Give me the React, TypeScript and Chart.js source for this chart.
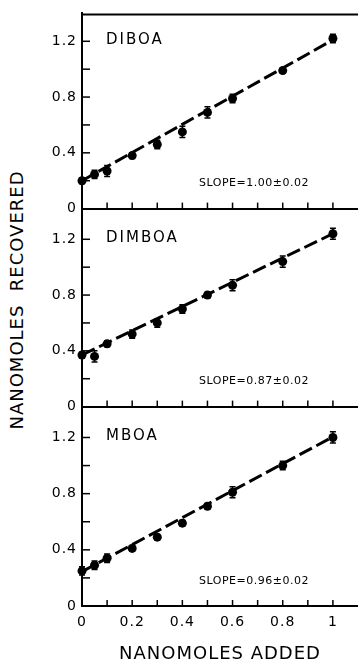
import React, { useEffect, useRef } from 'react';
import { Chart, registerables } from 'chart.js';

Chart.register(...registerables);

// ---- data ----
const xValues = [0, 0.05, 0.1, 0.2, 0.3, 0.4, 0.5, 0.6, 0.8, 1.0];

const diboaValues = [0.2, 0.245, 0.27, 0.38, 0.46, 0.55, 0.69, 0.79, 0.99, 1.22];
const diboaErrors = [0.02, 0.03, 0.04, 0.02, 0.03, 0.04, 0.04, 0.03, 0.02, 0.03];
const dimboaValues = [0.37, 0.36, 0.45, 0.52, 0.6, 0.7, 0.8, 0.87, 1.04, 1.24];
const dimboaErrors = [0.02, 0.04, 0.02, 0.03, 0.03, 0.03, 0.02, 0.04, 0.04, 0.04];
const mboaValues = [0.25, 0.29, 0.34, 0.41, 0.49, 0.59, 0.71, 0.81, 1.0, 1.2];
const mboaErrors = [0.03, 0.03, 0.03, 0.02, 0.02, 0.02, 0.02, 0.04, 0.03, 0.04];

const fitX = [0, 1.0];
const diboaFit = [0.2, 1.21];
const dimboaFit = [0.37, 1.24];
const mboaFit = [0.245, 1.205];

const panelNames = ['DIBOA', 'DIMBOA', 'MBOA'];
const slopeTexts = ['SLOPE=1.00\u00b10.02', 'SLOPE=0.87\u00b10.02', 'SLOPE=0.96\u00b10.02'];

const xTickValues = [0, 0.1, 0.2, 0.3, 0.4, 0.5, 0.6, 0.7, 0.8, 0.9, 1.0];
const xTickLabels = ['0', '', '0.2', '', '0.4', '', '0.6', '', '0.8', '', '1'];
const yTickValues = [0, 0.2, 0.4, 0.6, 0.8, 1.0, 1.2];
const yTickLabels = ['0', '', '0.4', '', '0.8', '', '1.2'];

const xTitle = 'NANOMOLES ADDED';
const yTitle = 'NANOMOLES\u00a0\u00a0RECOVERED';

const FONT = '"DejaVu Sans", "Liberation Sans", sans-serif';

type PanelProps = {
  name: string;
  slope: string;
  values: number[];
  errors: number[];
  fit: number[];
  top: number;
  height: number;
  padBottom: number;
  xAxisHeight: number;
  showX: boolean;
  topBorder: boolean;
};

function Panel(p: PanelProps) {
  const ref = useRef<HTMLCanvasElement>(null);
  useEffect(() => {
    const canvas = ref.current!;
    const spacing = {
      id: 'spacing',
      beforeUpdate(c: any) { c.ctx.letterSpacing = '1px'; },
      beforeDraw(c: any) { c.ctx.letterSpacing = '1px'; },
    };
    const decor = {
      id: 'decor',
      afterDraw(c: any) {
        const ctx = c.ctx as CanvasRenderingContext2D;
        const xs = c.scales.x;
        const ys = c.scales.y;
        const a = c.chartArea;
        ctx.save();
        ctx.strokeStyle = '#000';
        ctx.fillStyle = '#000';
        if (p.topBorder) {
          ctx.lineWidth = 2;
          ctx.beginPath();
          ctx.moveTo(a.left, a.top + 1);
          ctx.lineTo(a.right, a.top + 1);
          ctx.stroke();
        }
        // inward ticks
        ctx.lineWidth = 1.5;
        xTickValues.forEach((v) => {
          if (v === 0) return;
          const px = xs.getPixelForValue(v);
          ctx.beginPath();
          ctx.moveTo(px, a.bottom);
          ctx.lineTo(px, a.bottom - 6);
          ctx.stroke();
        });
        yTickValues.forEach((v) => {
          if (v === 0) return;
          const py = ys.getPixelForValue(v);
          ctx.beginPath();
          ctx.moveTo(a.left, py);
          ctx.lineTo(a.left + 8, py);
          ctx.stroke();
        });
        // error bars
        ctx.lineWidth = 1.5;
        xValues.forEach((x, i) => {
          const px = xs.getPixelForValue(x);
          const y1 = ys.getPixelForValue(p.values[i] + p.errors[i]);
          const y2 = ys.getPixelForValue(p.values[i] - p.errors[i]);
          ctx.beginPath();
          ctx.moveTo(px, y1);
          ctx.lineTo(px, y2);
          ctx.moveTo(px - 3, y1);
          ctx.lineTo(px + 3, y1);
          ctx.moveTo(px - 3, y2);
          ctx.lineTo(px + 3, y2);
          ctx.stroke();
        });
        // texts
        (ctx as any).letterSpacing = '2px';
        ctx.font = '15px ' + FONT;
        ctx.textBaseline = 'alphabetic';
        ctx.textAlign = 'left';
        ctx.fillText(p.name, a.left + 24, a.top + 31);
        (ctx as any).letterSpacing = '0.5px';
        ctx.font = '11px ' + FONT;
        ctx.textBaseline = 'middle';
        ctx.fillText(p.slope, a.left + 117, a.bottom - 25);
        ctx.restore();
      },
    };
    const chart = new Chart(canvas, {
      type: 'scatter',
      data: {
        datasets: [
          {
            type: 'scatter',
            data: xValues.map((x, i) => ({ x, y: p.values[i] })),
            pointRadius: 4.5,
            pointHoverRadius: 4.5,
            backgroundColor: '#000',
            borderColor: '#000',
            borderWidth: 0,
            clip: false,
          } as any,
          {
            type: 'line',
            data: fitX.map((x, i) => ({ x, y: p.fit[i] })),
            borderColor: '#000',
            borderWidth: 3,
            borderDash: [14, 5],
            pointRadius: 0,
            fill: false,
            tension: 0,
            clip: false,
          } as any,
        ],
      },
      options: {
        responsive: false,
        animation: false,
        devicePixelRatio: 1,
        layout: { autoPadding: false, padding: { top: 12, bottom: p.padBottom, left: 0, right: 0 } },
        plugins: { legend: { display: false }, tooltip: { enabled: false }, title: { display: false } },
        scales: {
          x: {
            type: 'linear',
            min: 0,
            max: 1.1,
            grid: { display: false, drawTicks: false },
            border: { display: true, color: '#000', width: 2 },
            afterBuildTicks: (s: any) => { s.ticks = xTickValues.map((v) => ({ value: v })); },
            afterFit: (s: any) => { s.height = p.xAxisHeight; },
            ticks: {
              display: p.showX,
              autoSkip: false,
              maxRotation: 0,
              padding: 8,
              color: '#000',
              font: { family: FONT, size: 14 },
              callback: (_v: any, i: number) => xTickLabels[i],
            },
            title: {
              display: p.showX,
              text: xTitle,
              color: '#000',
              font: { family: FONT, size: 18, lineHeight: 1 },
              padding: { top: 0, bottom: 0 },
            },
          },
          y: {
            type: 'linear',
            min: 0,
            max: 1.4,
            grid: { display: false, drawTicks: false },
            border: { display: true, color: '#000', width: 2 },
            afterBuildTicks: (s: any) => { s.ticks = yTickValues.map((v) => ({ value: v })); },
            afterFit: (s: any) => { s.width = 82; },
            ticks: {
              autoSkip: false,
              padding: 5,
              color: '#000',
              font: { family: FONT, size: 14 },
              callback: (_v: any, i: number) => yTickLabels[i],
            },
          },
        },
      } as any,
      plugins: [spacing, decor],
    });
    return () => chart.destroy();
  }, []);
  return (
    <canvas
      ref={ref}
      width={358}
      height={p.height}
      style={{ position: 'absolute', left: 0, top: p.top, width: 358, height: p.height }}
    />
  );
}

export default function App() {
  return (
    <div style={{ position: 'absolute', left: 0, top: 0, width: 358, height: 663, overflow: 'hidden', background: '#fff' }}>
      <div
        style={{
          position: 'absolute',
          left: 17,
          top: 300,
          transform: 'translate(-50%, -50%) rotate(-90deg)',
          whiteSpace: 'nowrap',
          font: '18px ' + FONT,
          letterSpacing: '1px',
          color: '#000',
          lineHeight: '18px',
        }}
      >
        {yTitle}
      </div>
      <Panel name={panelNames[0]} slope={slopeTexts[0]} values={diboaValues} errors={diboaErrors} fit={diboaFit}
        top={0} height={222} padBottom={12} xAxisHeight={0} showX={false} topBorder={true} />
      <Panel name={panelNames[1]} slope={slopeTexts[1]} values={dimboaValues} errors={dimboaErrors} fit={dimboaFit}
        top={198} height={222} padBottom={12} xAxisHeight={0} showX={false} topBorder={false} />
      <Panel name={panelNames[2]} slope={slopeTexts[2]} values={mboaValues} errors={mboaErrors} fit={mboaFit}
        top={396} height={267} padBottom={0} xAxisHeight={57} showX={true} topBorder={false} />
    </div>
  );
}
